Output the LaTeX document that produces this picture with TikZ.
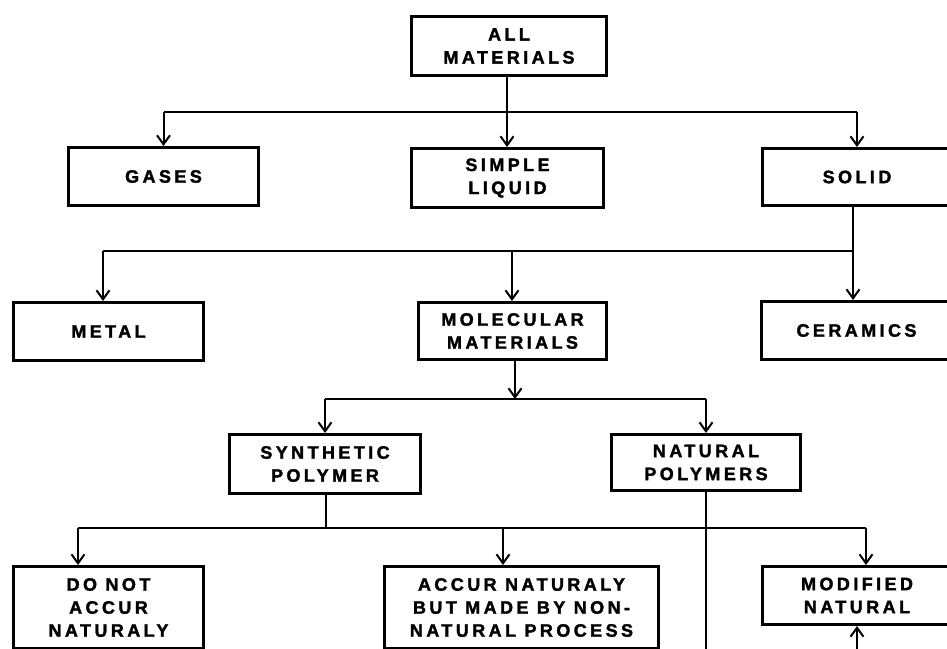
\documentclass[tikz,border=0pt]{standalone}
\usepackage{fontspec}
\newfontfamily\boxfont{Liberation Sans Bold}[LetterSpace=19, FakeBold=1.8]
\usetikzlibrary{arrows.meta}
\begin{document}
\begin{tikzpicture}[x=1pt,y=-1pt,
  box/.style 2 args={draw, line width=3pt, minimum width=#1pt, minimum height=#2pt,
    inner sep=0pt, align=center, font=\boxfont\fontsize{18}{23}\selectfont},
  conn/.style={line width=2pt},
  arr/.style={conn, -{Straight Barb[length=9pt,width=13pt]}}]
\path[use as bounding box] (0,0) rectangle (947,648);
\clip (0,0) rectangle (947,648);

\node[box={195}{59}] (all) at (509,46) {ALL\\MATERIALS};
\node[box={190}{58}] (gases) at (163.5,176.5) {GASES};
\node[box={192}{59}] (liquid) at (507.5,178) {SIMPLE\\LIQUID};
\node[box={189}{57}] (solid) at (857,177) {SOLID};
\node[box={190}{58}] (metal) at (108.5,331.5) {METAL};
\node[box={188}{57}] (molecular) at (512.5,331) {MOLECULAR\\MATERIALS};
\node[box={190}{58}] (ceramics) at (856.5,330.5) {CERAMICS};
\node[box={191}{59}] (synthetic) at (325,464) {SYNTHETIC\\POLYMER};
\node[box={189}{56}] (natural) at (706,462.5) {NATURAL\\POLYMERS};
\node[box={190}{82}] (donot) at (108.5,607.5) {DO NOT\\ACCUR\\NATURALY};
\node[box={274}{82}] (accur) at (521.5,607.5) {ACCUR NATURALY\\BUT MADE BY NON-\\NATURAL PROCESS};
\node[box={189}{58}] (modified) at (857,595.5) {MODIFIED\\NATURAL};

\coordinate (b1) at (0,112);
\coordinate (b2) at (0,251);
\coordinate (b3) at (0,399);
\coordinate (b4) at (0,528);
\coordinate (off) at (0,660);

% level 1
\draw[arr] ([xshift=-2pt]all.south) -- ([xshift=-2pt]all.south |- liquid.north);
\draw[conn] (b1 -| gases.north) -- (b1 -| solid.north);
\draw[arr] (b1 -| gases.north) -- (gases.north);
\draw[arr] (b1 -| solid.north) -- (solid.north);

% level 2
\coordinate (sSolid) at ([xshift=-4pt]solid.south);
\coordinate (tMetal) at ([xshift=-5.5pt]metal.north);
\coordinate (tMol) at ([xshift=-0.5pt]molecular.north);
\draw[conn] (tMetal |- b2) -- (sSolid |- b2);
\draw[arr] (sSolid) -- (sSolid |- ceramics.north);
\draw[arr] (tMetal |- b2) -- (tMetal);
\draw[arr] (tMol |- b2) -- (tMol);

% level 3
\coordinate (mS) at ([xshift=2.5pt]molecular.south);
\draw[arr] (mS) -- (mS |- b3);
\draw[conn] (b3 -| synthetic.north) -- (b3 -| natural.north);
\draw[arr] (b3 -| synthetic.north) -- (synthetic.north);
\draw[arr] (b3 -| natural.north) -- (natural.north);

% level 4
\coordinate (tDo) at ([xshift=-30.5pt]donot.north);
\coordinate (tAc) at ([xshift=-18.5pt]accur.north);
\coordinate (tMo) at ([xshift=9pt]modified.north);
\draw[conn] ([xshift=1pt]synthetic.south) -- ([xshift=1pt]synthetic.south |- b4);
\draw[conn] (tDo |- b4) -- (tMo |- b4);
\draw[arr] (tDo |- b4) -- (tDo);
\draw[arr] (tAc |- b4) -- (tAc);
\draw[arr] (tMo |- b4) -- (tMo);
\draw[conn] (natural.south) -- (natural.south |- off);
\draw[arr] (modified.south |- off) -- (modified.south);
\end{tikzpicture}
\end{document}
